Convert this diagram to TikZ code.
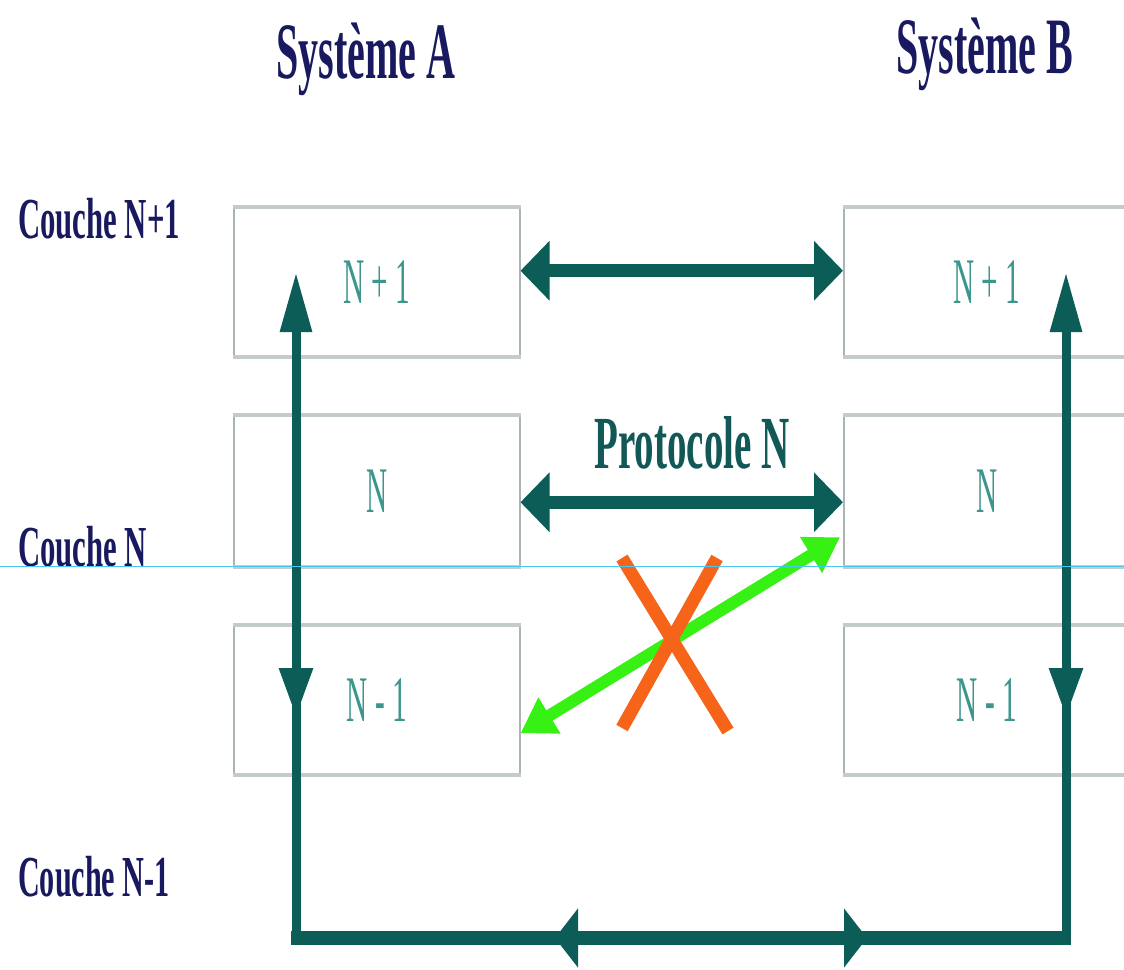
\documentclass[tikz,border=0pt]{standalone}
\usepackage{graphicx}
\usepackage{fontspec}
\setmainfont{Liberation Serif}
\usetikzlibrary{arrows.meta}
\definecolor{navy}{RGB}{25,25,95}
\definecolor{arrowteal}{RGB}{12,92,88}
\definecolor{labelteal}{RGB}{60,150,140}
\definecolor{prototeal}{RGB}{18,88,86}
\definecolor{brightgreen}{RGB}{55,240,20}
\definecolor{xorange}{RGB}{245,100,25}
\definecolor{boxgray}{RGB}{170,180,180}
\definecolor{boxedgegray}{RGB}{195,203,203}
\definecolor{guidecyan}{RGB}{70,200,240}
\newcommand\sqz[2]{\scalebox{#1}[1]{#2}}
\begin{document}
\begin{tikzpicture}[x=1pt,y=-1pt,
  layerbox/.style={draw=boxgray, line width=1.5pt, fill=white,
    minimum width=286pt, minimum height=148pt, inner sep=0pt, anchor=north west,
    text=labelteal, font=\fontsize{65}{78}\selectfont},
  boxedge/.style={boxedgegray, line width=4pt},
  titletext/.style={anchor=base, inner sep=0pt, text=navy, font=\fontsize{80}{96}\selectfont\bfseries},
  layertext/.style={anchor=base west, inner sep=0pt, text=navy, font=\fontsize{58}{70}\selectfont\bfseries},
  prototext/.style={anchor=base, inner sep=0pt, text=prototeal, font=\fontsize{75}{90}\selectfont\bfseries},
  peer/.style={arrowteal, line width=13pt,
    {Triangle[length=29pt,width=58pt]}-{Triangle[length=29pt,width=58pt]}},
  vline/.style={arrowteal, line width=9pt},
  upend/.style={-{Triangle[length=60pt,width=30pt]}},
  downhead/.style={-{Triangle[length=49pt,width=32pt]}},
  bottomline/.style={arrowteal, line width=14pt},
  sidehead/.style={-{Triangle[length=23pt,width=58pt]}},
  greenlink/.style={brightgreen, line width=12pt,
    {Triangle[length=34pt,width=40pt]}-{Triangle[length=34pt,width=40pt]}},
  cross/.style={xorange, line width=13pt},
  guide/.style={guidecyan, line width=1pt}
]
\useasboundingbox (0,0) rectangle (1124,969);
\fill[white] (0,0) rectangle (1124,969);

% titles
\node[titletext] (sysA) at (366,78) {\sqz{0.5}{Système A}};
\node[titletext] (sysB) at (985,73) {\sqz{0.5}{Système B}};

% layer labels
\node[layertext] (cN1) at (18,238) {\sqz{0.53}{Couche N+1}};
\node[layertext] (cN)  at (18,566) {\sqz{0.53}{Couche N}};
\node[layertext] (cNm) at (18,896) {\sqz{0.52}{Couche N-1}};

% boxes
\node[layerbox] (a1) at (233,207) {\sqz{0.45}{N + 1}};
\node[layerbox, minimum height=150pt] (a2) at (233,415) {\sqz{0.45}{N}};
\node[layerbox] (a3) at (233,625) {\sqz{0.45}{N - 1}};
\node[layerbox] (b1) at (843,207) {\sqz{0.45}{N + 1}};
\node[layerbox, minimum height=150pt] (b2) at (843,415) {\sqz{0.45}{N}};
\node[layerbox] (b3) at (843,625) {\sqz{0.45}{N - 1}};
\foreach \b in {a1,a2,a3,b1,b2,b3}{
  \draw[boxedge] (\b.north west) -- (\b.north east);
  \draw[boxedge] (\b.south west) -- (\b.south east);
}

% protocol label
\node[prototext] (proto) at (692,468) {\sqz{0.52}{Protocole N}};

% peer arrows
\draw[peer] ([yshift=11pt]a1.east) -- ([yshift=11pt]b1.west);
\draw[peer] ([yshift=-11.5pt]a2.east) -- ([yshift=-11.5pt]b2.west);

% service path
\coordinate (ltip) at (296,272);
\coordinate (rtip) at (1066,272);
\coordinate (lbot) at (296,945);
\coordinate (rbot) at (1066,945);
\coordinate (lcorner) at (291,938);
\coordinate (rcorner) at (1070,938);
\draw[vline, upend] (lbot) -- (ltip);
\draw[vline, upend] (rbot) -- (rtip);
\draw[bottomline] (lcorner) -- (rcorner);
\coordinate (ldA) at (296,660); \coordinate (ldB) at (296,717);
\coordinate (rdA) at (1066,660); \coordinate (rdB) at (1066,717);
\draw[vline, downhead] (ldA) -- (ldB);
\draw[vline, downhead] (rdA) -- (rdB);
\coordinate (blA) at (610,938); \coordinate (blB) at (555,938);
\coordinate (brA) at (810,938); \coordinate (brB) at (867,938);
\draw[bottomline, sidehead] (blA) -- (blB);
\draw[bottomline, sidehead] (brA) -- (brB);

% forbidden direct link
\draw[greenlink] ([yshift=-33.5pt]a3.east) -- ([xshift=-3pt,yshift=-46.5pt]b2.west);
\coordinate (x1) at (622,558); \coordinate (x2) at (728,731);
\coordinate (x3) at (717,558); \coordinate (x4) at (622,728);
\draw[cross] (x1) -- (x2);
\draw[cross] (x3) -- (x4);

% guide line
\coordinate (gA) at (0,566); \coordinate (gB) at (1124,566);
\draw[guide] (gA) -- (gB);
\end{tikzpicture}
\end{document}
